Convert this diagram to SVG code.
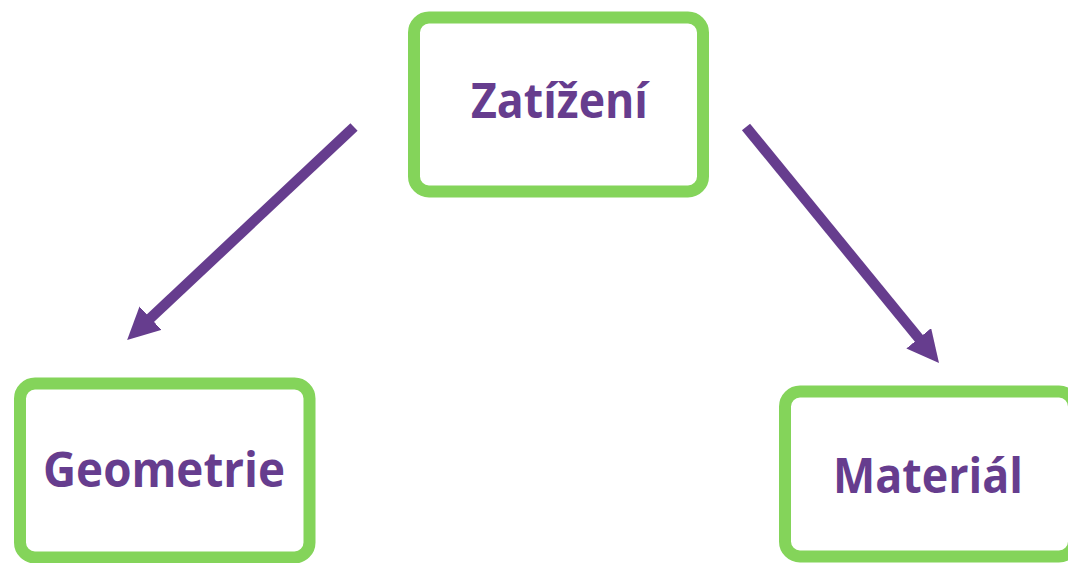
<svg xmlns="http://www.w3.org/2000/svg" width="1068" height="563" viewBox="0 0 1068 563">
<style>
.box{fill:#fff;stroke:#84D45A;stroke-width:12}
.lbl{font-family:"Open Sans","Liberation Sans",sans-serif;font-weight:bold;font-size:49px;fill:#663D8E;text-anchor:middle}
.conn{stroke:#663D8E;stroke-width:10.5;fill:none}
</style>
<defs>
<marker id="ah" markerUnits="userSpaceOnUse" markerWidth="34" markerHeight="34" refX="2" refY="16" orient="auto" viewBox="0 0 34 34">
<path d="M0,0 L32,16 L0,32 z" fill="#663D8E"/>
</marker>
</defs>
<rect width="1068" height="563" fill="#fff"/>
<g id="connectors">
<line class="conn" x1="354" y1="127" x2="149" y2="319.5" marker-end="url(#ah)"/>
<line class="conn" x1="746" y1="127" x2="920" y2="339.8" marker-end="url(#ah)"/>
</g>
<g id="node-zatizeni">
<rect class="box" x="414" y="17.5" width="289" height="174" rx="15"/>
<text class="lbl" x="559.5" y="118" textLength="177" lengthAdjust="spacingAndGlyphs">Zatížení</text>
</g>
<g id="node-geometrie">
<rect class="box" x="20" y="383.5" width="289.5" height="174" rx="15"/>
<text class="lbl" x="164" y="486.5" textLength="242" lengthAdjust="spacingAndGlyphs">Geometrie</text>
</g>
<g id="node-material">
<rect class="box" x="785" y="391.5" width="289" height="165" rx="15"/>
<text class="lbl" x="928" y="493" textLength="190" lengthAdjust="spacingAndGlyphs">Materiál</text>
</g>
</svg>
